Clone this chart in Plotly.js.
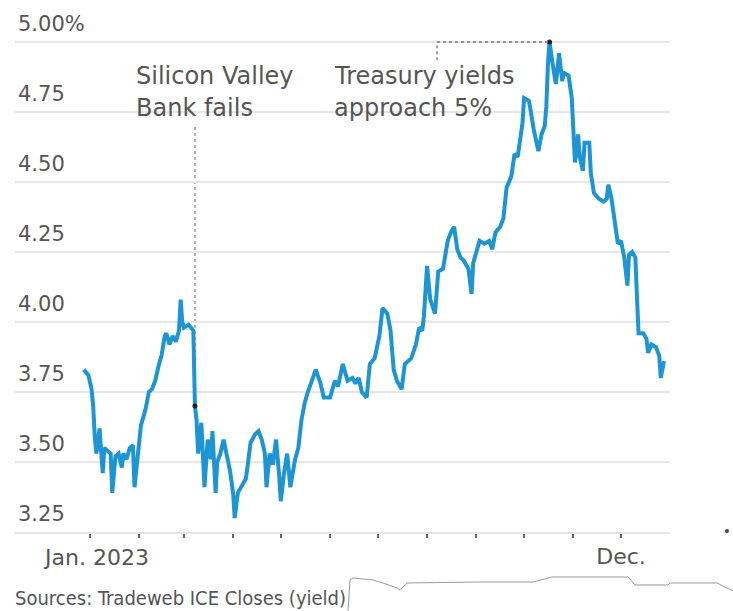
<!DOCTYPE html>
<html>
<head>
<meta charset="utf-8">
<script src="https://cdn.plot.ly/plotly-3.0.1.min.js"></script>
<style>
  html, body { margin: 0; padding: 0; background: #ffffff; }
  #chart { width: 733px; height: 611px; }
</style>
</head>
<body>
<div id="chart"></div>
<script>
// ---- Data ----
const dates = [
  '2022-12-28','2022-12-31','2023-01-02','2023-01-03','2023-01-04','2023-01-05','2023-01-07','2023-01-09',
  '2023-01-10','2023-01-12','2023-01-14','2023-01-15','2023-01-17','2023-01-19','2023-01-21','2023-01-22',
  '2023-01-24','2023-01-26','2023-01-28','2023-01-29','2023-01-31','2023-02-02','2023-02-05','2023-02-07',
  '2023-02-09','2023-02-11','2023-02-13','2023-02-15','2023-02-17','2023-02-18','2023-02-20','2023-02-22',
  '2023-02-24','2023-02-26','2023-02-27','2023-02-28','2023-03-01','2023-03-04','2023-03-07','2023-03-08',
  '2023-03-09','2023-03-10','2023-03-12','2023-03-13','2023-03-14','2023-03-16','2023-03-18','2023-03-19',
  '2023-03-21','2023-03-22','2023-03-24','2023-03-26','2023-03-28','2023-03-30','2023-04-01','2023-04-02',
  '2023-04-04','2023-04-06','2023-04-09','2023-04-10','2023-04-12','2023-04-15','2023-04-17','2023-04-19',
  '2023-04-21','2023-04-22','2023-04-24','2023-04-26','2023-04-28','2023-04-30','2023-05-01','2023-05-03',
  '2023-05-05','2023-05-07','2023-05-10','2023-05-12','2023-05-14','2023-05-16','2023-05-18','2023-05-23',
  '2023-05-26','2023-05-28','2023-06-01','2023-06-04','2023-06-06','2023-06-09','2023-06-12','2023-06-15',
  '2023-06-17','2023-06-19','2023-06-21','2023-06-24','2023-06-26','2023-06-29','2023-07-02','2023-07-04',
  '2023-07-07','2023-07-09','2023-07-11','2023-07-13','2023-07-16','2023-07-18','2023-07-22','2023-07-25',
  '2023-07-27','2023-07-29','2023-07-30','2023-08-01','2023-08-03','2023-08-06','2023-08-08','2023-08-11',
  '2023-08-14','2023-08-16','2023-08-18','2023-08-20','2023-08-22','2023-08-24','2023-08-27','2023-08-29',
  '2023-08-30','2023-09-03','2023-09-06','2023-09-09','2023-09-11','2023-09-13','2023-09-16','2023-09-18',
  '2023-09-20','2023-09-23','2023-09-25','2023-09-27','2023-09-28','2023-09-30','2023-10-01','2023-10-04',
  '2023-10-05','2023-10-07','2023-10-10','2023-10-12','2023-10-14','2023-10-15','2023-10-16','2023-10-17',
  '2023-10-19','2023-10-21','2023-10-23','2023-10-25','2023-10-26','2023-10-29','2023-10-31','2023-11-01',
  '2023-11-02','2023-11-04','2023-11-05','2023-11-07','2023-11-08','2023-11-11','2023-11-12','2023-11-14',
  '2023-11-17','2023-11-20','2023-11-22','2023-11-23','2023-11-25','2023-11-27','2023-11-29','2023-12-01',
  '2023-12-03','2023-12-05','2023-12-06','2023-12-08','2023-12-10','2023-12-11','2023-12-12','2023-12-15',
  '2023-12-17','2023-12-18','2023-12-20','2023-12-23','2023-12-25','2023-12-26','2023-12-28'
];
const yields = [
  3.83,3.81,3.76,3.70,3.59,3.53,3.62,3.46,
  3.55,3.54,3.53,3.39,3.52,3.53,3.48,3.53,
  3.51,3.55,3.56,3.41,3.53,3.63,3.69,3.75,
  3.76,3.79,3.84,3.88,3.95,3.96,3.92,3.95,
  3.93,3.97,4.08,4.00,3.98,3.99,3.97,3.70,
  3.65,3.53,3.64,3.51,3.41,3.58,3.51,3.61,
  3.39,3.50,3.53,3.58,3.52,3.47,3.39,3.30,
  3.39,3.41,3.44,3.48,3.57,3.60,3.61,3.58,
  3.53,3.41,3.53,3.49,3.58,3.45,3.36,3.46,
  3.53,3.41,3.51,3.55,3.65,3.71,3.75,3.83,
  3.78,3.73,3.73,3.79,3.77,3.85,3.79,3.80,
  3.78,3.80,3.75,3.73,3.85,3.87,3.95,4.05,
  4.03,3.97,3.83,3.79,3.76,3.85,3.87,3.92,
  3.98,3.97,4.02,4.20,4.08,4.03,4.18,4.19,
  4.29,4.32,4.34,4.26,4.23,4.22,4.19,4.10,
  4.21,4.29,4.28,4.29,4.26,4.32,4.34,4.37,
  4.48,4.52,4.60,4.59,4.63,4.71,4.80,4.79,
  4.76,4.69,4.61,4.67,4.70,4.77,4.92,5.00,
  4.92,4.85,4.96,4.86,4.89,4.88,4.80,4.69,
  4.57,4.67,4.59,4.54,4.64,4.64,4.53,4.46,
  4.44,4.43,4.44,4.49,4.44,4.36,4.28,4.29,
  4.23,4.13,4.24,4.25,4.23,4.09,3.96,3.96,
  3.94,3.89,3.92,3.91,3.88,3.80,3.86
];
const yTickVals = [3.25, 3.50, 3.75, 4.00, 4.25, 4.50, 4.75, 5.00];
const yTickText = ['3.25', '3.50', '3.75', '4.00', '4.25', '4.50', '4.75', '5.00%'];
const xTickVals = ['2023-01-01','2023-02-01','2023-03-01','2023-04-01','2023-05-01','2023-06-01',
                   '2023-07-01','2023-08-01','2023-09-01','2023-10-01','2023-11-01','2023-12-01'];
const xTickText = ['Jan. 2023','','','','','','','','','','','Dec.'];
const svbDate = '2023-03-08';
const svbLabel = ['Silicon Valley', 'Bank fails'];
const peakLabel = ['Treasury yields', 'approach 5%'];
const sourceText = 'Sources: Tradeweb ICE Closes (yield)';

// ---- Layout helpers (pixel -> paper) ----
const W = 733, H = 611;
const M = {l: 15, r: 63, t: 8, b: 79};
const L = M.l, R = W - M.r, T = M.t, B = H - M.b;
const px = p => (p - L) / (R - L);
const py = p => (B - p) / (B - T);
const yTop = 3.25 + (B - T) / 280;

const svbIdx = dates.indexOf(svbDate);
let peakIdx = 0;
yields.forEach((v, i) => { if (v > yields[peakIdx]) peakIdx = i; });

const lineColor = '#1d94d3';
const textGray = '#555555';
const FONT = 'DejaVu Sans, Verdana, sans-serif';

const traces = [
  {
    x: dates, y: yields, type: 'scatter', mode: 'lines',
    line: {color: lineColor, width: 4, shape: 'linear'},
    hoverinfo: 'skip'
  },
  {
    x: [dates[svbIdx], dates[peakIdx]], y: [yields[svbIdx], yields[peakIdx]],
    type: 'scatter', mode: 'markers',
    marker: {color: '#222222', size: 5},
    hoverinfo: 'skip'
  }
];

// outline artifact along the bottom of the picture
const outlinePts = [[348,611],[350,580],[353,578],[373,580],[383,583],[397,588],[400,590],[407,583],
  [480,582],[533,582],[552,577],[628,577],[635,585],[668,585],[670,583],[717,583],[733,591]];
const outlinePath = outlinePts.map((p, i) => (i ? 'L' : 'M') + px(p[0]).toFixed(4) + ',' + py(p[1]).toFixed(4)).join(' ');

const shapes = [
  // white masks over gridlines behind the annotation texts
  {type: 'rect', layer: 'between', xref: 'paper', yref: 'paper',
   x0: px(405), x1: px(546), y0: py(47), y1: py(37), fillcolor: '#ffffff', line: {width: 0}},
  {type: 'rect', layer: 'between', xref: 'paper', yref: 'paper',
   x0: px(88), x1: px(505), y0: py(116), y1: py(104), fillcolor: '#ffffff', line: {width: 0}},
  // SVB dotted leader
  {type: 'line', xref: 'x', yref: 'y', x0: dates[svbIdx], x1: dates[svbIdx], y0: yields[svbIdx], y1: 4.70,
   line: {color: '#888888', width: 1.3, dash: 'dot'}, layer: 'below'},
  // Treasury peak dotted leader
  {type: 'line', xref: 'paper', yref: 'y', x0: px(437), x1: px(437), y0: 4.935, y1: yields[peakIdx],
   line: {color: '#777777', width: 1.3, dash: 'dot'}},
  {type: 'line', xref: 'paper', yref: 'y', x0: px(437), x1: px(549), y0: yields[peakIdx], y1: yields[peakIdx],
   line: {color: '#777777', width: 1.3, dash: 'dot'}},
  // bottom outline artifact
  {type: 'path', xref: 'paper', yref: 'paper', path: outlinePath, line: {color: '#9a9a9a', width: 1}},
  // stray dot on the right edge
  {type: 'circle', xref: 'paper', yref: 'paper', x0: px(725), x1: px(729), y0: py(533), y1: py(529),
   fillcolor: '#444444', line: {width: 0}}
];

const annFont = {family: FONT, size: 24, color: textGray};
const annotations = [
  {xref: 'paper', yref: 'paper', x: px(134), y: py(76), xanchor: 'left', yanchor: 'middle',
   text: svbLabel[0], showarrow: false, font: annFont},
  {xref: 'paper', yref: 'paper', x: px(134), y: py(108), xanchor: 'left', yanchor: 'middle',
   text: svbLabel[1], showarrow: false, font: annFont},
  {xref: 'paper', yref: 'paper', x: px(332), y: py(76), xanchor: 'left', yanchor: 'middle',
   text: peakLabel[0], showarrow: false, font: annFont},
  {xref: 'paper', yref: 'paper', x: px(332), y: py(108), xanchor: 'left', yanchor: 'middle',
   text: peakLabel[1], showarrow: false, font: annFont},
  // first x tick label sits slightly right of its tick in the reference
  {xref: 'paper', yref: 'paper', x: px(96), y: py(557), xanchor: 'center', yanchor: 'middle',
   text: xTickText[0], showarrow: false, font: {family: FONT, size: 22, color: textGray}},
  {xref: 'paper', yref: 'paper', x: px(13), y: py(598), xanchor: 'left', yanchor: 'middle',
   text: sourceText, showarrow: false,
   font: {family: 'DejaVu Sans Condensed, Liberation Sans Narrow, Arial Narrow, sans-serif', size: 20, color: textGray}}
];

const layout = {
  width: W, height: H,
  margin: M,
  paper_bgcolor: '#ffffff', plot_bgcolor: '#ffffff',
  showlegend: false, hovermode: false,
  xaxis: {
    type: 'date',
    range: ['2022-11-14 20:00', '2023-12-31 18:43'],
    tickmode: 'array', tickvals: xTickVals, ticktext: xTickText.map((t, i) => i === 0 ? '' : t),
    ticks: 'outside', ticklen: 4, tickwidth: 2, tickcolor: '#666666',
    showgrid: false, zeroline: false,
    showline: true, linecolor: '#e6e6e6', linewidth: 1.5,
    tickfont: {family: FONT, size: 22, color: textGray},
    fixedrange: true
  },
  yaxis: {
    range: [3.25, yTop],
    tickmode: 'array', tickvals: yTickVals, ticktext: yTickText,
    ticks: '', ticklabelposition: 'inside top', ticklabelshift: -4,
    showgrid: true, gridcolor: '#e6e6e6', gridwidth: 1.5,
    zeroline: false, showline: false,
    tickfont: {family: FONT, size: 21, color: textGray},
    fixedrange: true
  },
  shapes: shapes,
  annotations: annotations
};

Plotly.newPlot('chart', traces, layout, {staticPlot: true, displayModeBar: false});
</script>
</body>
</html>
